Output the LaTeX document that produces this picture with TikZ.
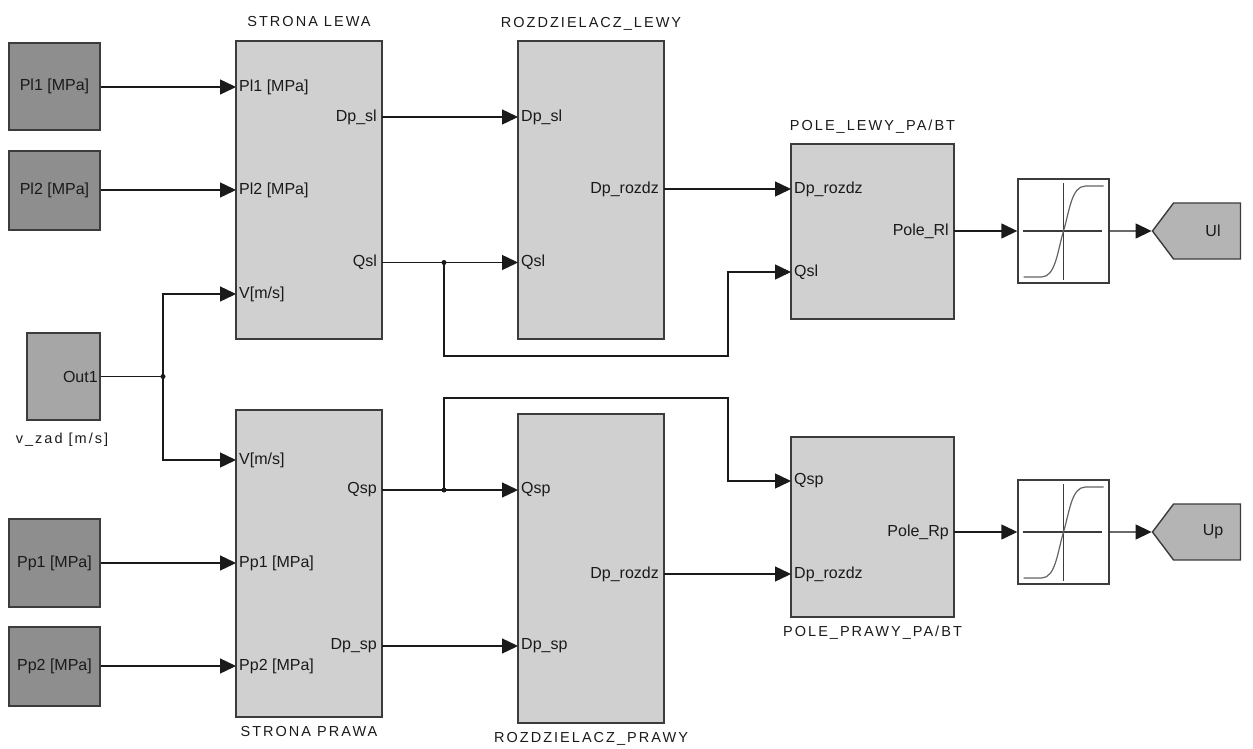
\documentclass[tikz,border=0pt]{standalone}
\usepackage{fontspec}
\setmainfont{Liberation Sans}
\newfontfamily\capfont[LetterSpace=14]{Liberation Sans}
\usetikzlibrary{arrows.meta,positioning,shapes.symbols}
\definecolor{edge}{HTML}{3C3C3C}
\definecolor{wire}{HTML}{1A1A1A}
\definecolor{subfill}{HTML}{D0D0D0}
\definecolor{srcfill}{HTML}{8E8E8E}
\definecolor{genfill}{HTML}{A6A6A6}
\definecolor{portfill}{HTML}{B4B4B4}
\newcommand\portfont{\fontsize{16}{18}\selectfont}

\begin{document}
\begin{tikzpicture}[x=1pt,y=-1pt,
 sub/.style={draw=edge,line width=1.8pt,fill=subfill,inner sep=0pt},
 src/.style={draw=edge,line width=1.8pt,fill=srcfill,minimum width=91pt,inner sep=0pt,font=\portfont,text=wire},
 inp/.style={anchor=west,inner xsep=3pt,inner ysep=0pt,font=\portfont,text=wire},
 outp/.style={anchor=east,inner xsep=5pt,inner ysep=0pt,font=\portfont,text=wire},
 title/.style={font=\capfont\fontsize{14.5}{16}\selectfont,text=wire},
 sat/.style={draw=edge,line width=1.4pt,fill=white,minimum width=91pt,minimum height=104pt},
 sink/.style={signal,signal to=west,signal pointer angle=106,draw=edge,line width=1.4pt,
 fill=portfill,minimum width=88pt,minimum height=56pt,inner sep=0pt,font=\portfont,text=wire},
 arr/.style={-{Triangle[length=16pt,width=15pt]},draw=wire,line width=1.4pt},
 wireln/.style={draw=wire,line width=1.4pt}]
\useasboundingbox (0,0) rectangle (1253,749);

% sources
\node[src,minimum height=87pt] (pl1) at (54.5,86.5) {Pl1 [MPa]};
\node[src,minimum height=79pt] (pl2) at (54.5,190.5) {Pl2 [MPa]};
\node[src,minimum height=88pt] (pp1) at (54.5,563) {Pp1 [MPa]};
\node[src,minimum height=79pt] (pp2) at (54.5,666.5) {Pp2 [MPa]};
\node[draw=edge,line width=1.8pt,fill=genfill,minimum width=73pt,minimum height=87pt] (vzad) at (63.5,376.5) {};
\node[outp,inner xsep=3pt] (vzadout) at (vzad.east) {Out1};
\node[title] (vzadname) at (62,440) {v\_zad [m/s]};

% subsystems
\node[sub,minimum width=146pt,minimum height=298pt] (sl) at (309,190) {};
\node[sub,minimum width=146pt,minimum height=307pt] (sp) at (309,563.5) {};
\node[sub,minimum width=146pt,minimum height=298pt] (rzl) at (591,190) {};
\node[sub,minimum width=146pt,minimum height=309pt] (rzp) at (591,568.5) {};
\node[sub,minimum width=163pt,minimum height=175pt] (pll) at (872.5,231.5) {};
\node[sub,minimum width=163pt,minimum height=180pt] (plp) at (872.5,527) {};

\node[title] at (309,22) {STRONA LEWA};
\node[title] at (309,732) {STRONA PRAWA};
\node[title] at (591,24) {ROZDZIELACZ\_LEWY};
\node[title] at (591,739) {ROZDZIELACZ\_PRAWY};
\node[title] at (872.5,127) {POLE\_LEWY\_PA/BT};
\node[title] at (872.5,633) {POLE\_PRAWY\_PA/BT};

% ports
\node[inp] (slpl1) at (236,87) {Pl1 [MPa]};
\node[inp] (slpl2) at (236,190) {Pl2 [MPa]};
\node[inp] (slv) at (236,294) {V[m/s]};
\node[outp] (sldp) at (382,117) {Dp\_sl};
\node[outp] (slq) at (382,262.5) {Qsl};
\node[inp] (spv) at (236,460) {V[m/s]};
\node[inp] (sppp1) at (236,563) {Pp1 [MPa]};
\node[inp] (sppp2) at (236,666) {Pp2 [MPa]};
\node[outp] (spq) at (382,490) {Qsp};
\node[outp] (spdp) at (382,646) {Dp\_sp};

\node[inp] (rzldp) at (518,117) {Dp\_sl};
\node[inp] (rzlq) at (518,262.5) {Qsl};
\node[outp] (rzlout) at (664,189) {Dp\_rozdz};
\node[inp] (rzpq) at (518,490) {Qsp};
\node[inp] (rzpdp) at (518,646) {Dp\_sp};
\node[outp] (rzpout) at (664,574) {Dp\_rozdz};

\node[inp] (plldp) at (791,189) {Dp\_rozdz};
\node[inp] (pllq) at (791,272) {Qsl};
\node[outp] (pllout) at (954,231) {Pole\_Rl};
\node[inp] (plpq) at (791,481) {Qsp};
\node[inp] (plpdp) at (791,574) {Dp\_rozdz};
\node[outp] (plpout) at (954,532) {Pole\_Rp};

% saturation and outports
\node[sat] (satl) at (1063.5,231) {};
\node[sat] (satp) at (1063.5,532) {};
\foreach \s in {satl,satp} {
 \begin{scope}[shift={(\s.center)}]
 \draw[edge,line width=1.2pt] (-41,0) -- (38,0) (0,-48) -- (0,49);
 \draw[edge!80,line width=1.2pt] (-40,46) -- (-22,46)
 .. controls (-8,46) and (-6,20) .. (0,0)
 .. controls (6,-20) and (8,-45) .. (22,-45) -- (40,-45);
 \end{scope}
}
\node[sink] (ul) at (1207,231) {\hspace*{12pt}Ul};
\node[sink] (up) at (1207,532) {\hspace*{12pt}Up};

% wires
\draw[arr] (pl1.east |- slpl1.west) -- (slpl1.west);
\draw[arr] (pl2.east |- slpl2.west) -- (slpl2.west);
\draw[arr] (pp1.east |- sppp1.west) -- (sppp1.west);
\draw[arr] (pp2.east |- sppp2.west) -- (sppp2.west);
\coordinate (jv) at (163,376.5);
\draw[wireln] (vzad.east) -- (jv);
\draw[arr] (jv) |- (slv.west);
\draw[arr] (jv) |- (spv.west);
\fill[wire] (jv) circle (2.5);

\draw[arr] (sldp.east) -- (rzldp.west);
\coordinate (jl) at (444,262.5);
\draw[arr] (slq.east) -- (rzlq.west);
\draw[arr] (jl) -- ++(0,93.5) -| ([xshift=-63pt]pllq.west) -- (pllq.west);
\fill[wire] (jl) circle (2.5);

\coordinate (jp) at (444,490);
\draw[arr] (spq.east) -- (rzpq.west);
\draw[arr] (jp) -- ++(0,-92) -| ([xshift=-63pt]plpq.west) -- (plpq.west);
\fill[wire] (jp) circle (2.5);
\draw[arr] (spdp.east) -- (rzpdp.west);

\draw[arr] (rzlout.east) -- (plldp.west);
\draw[arr] (rzpout.east) -- (plpdp.west);
\draw[arr] (pllout.east) -- (satl.west);
\draw[arr] (plpout.east) -- (satp.west);
\draw[arr] (satl.east) -- (ul);
\draw[arr] (satp.east) -- (up);
\end{tikzpicture}
\end{document}
